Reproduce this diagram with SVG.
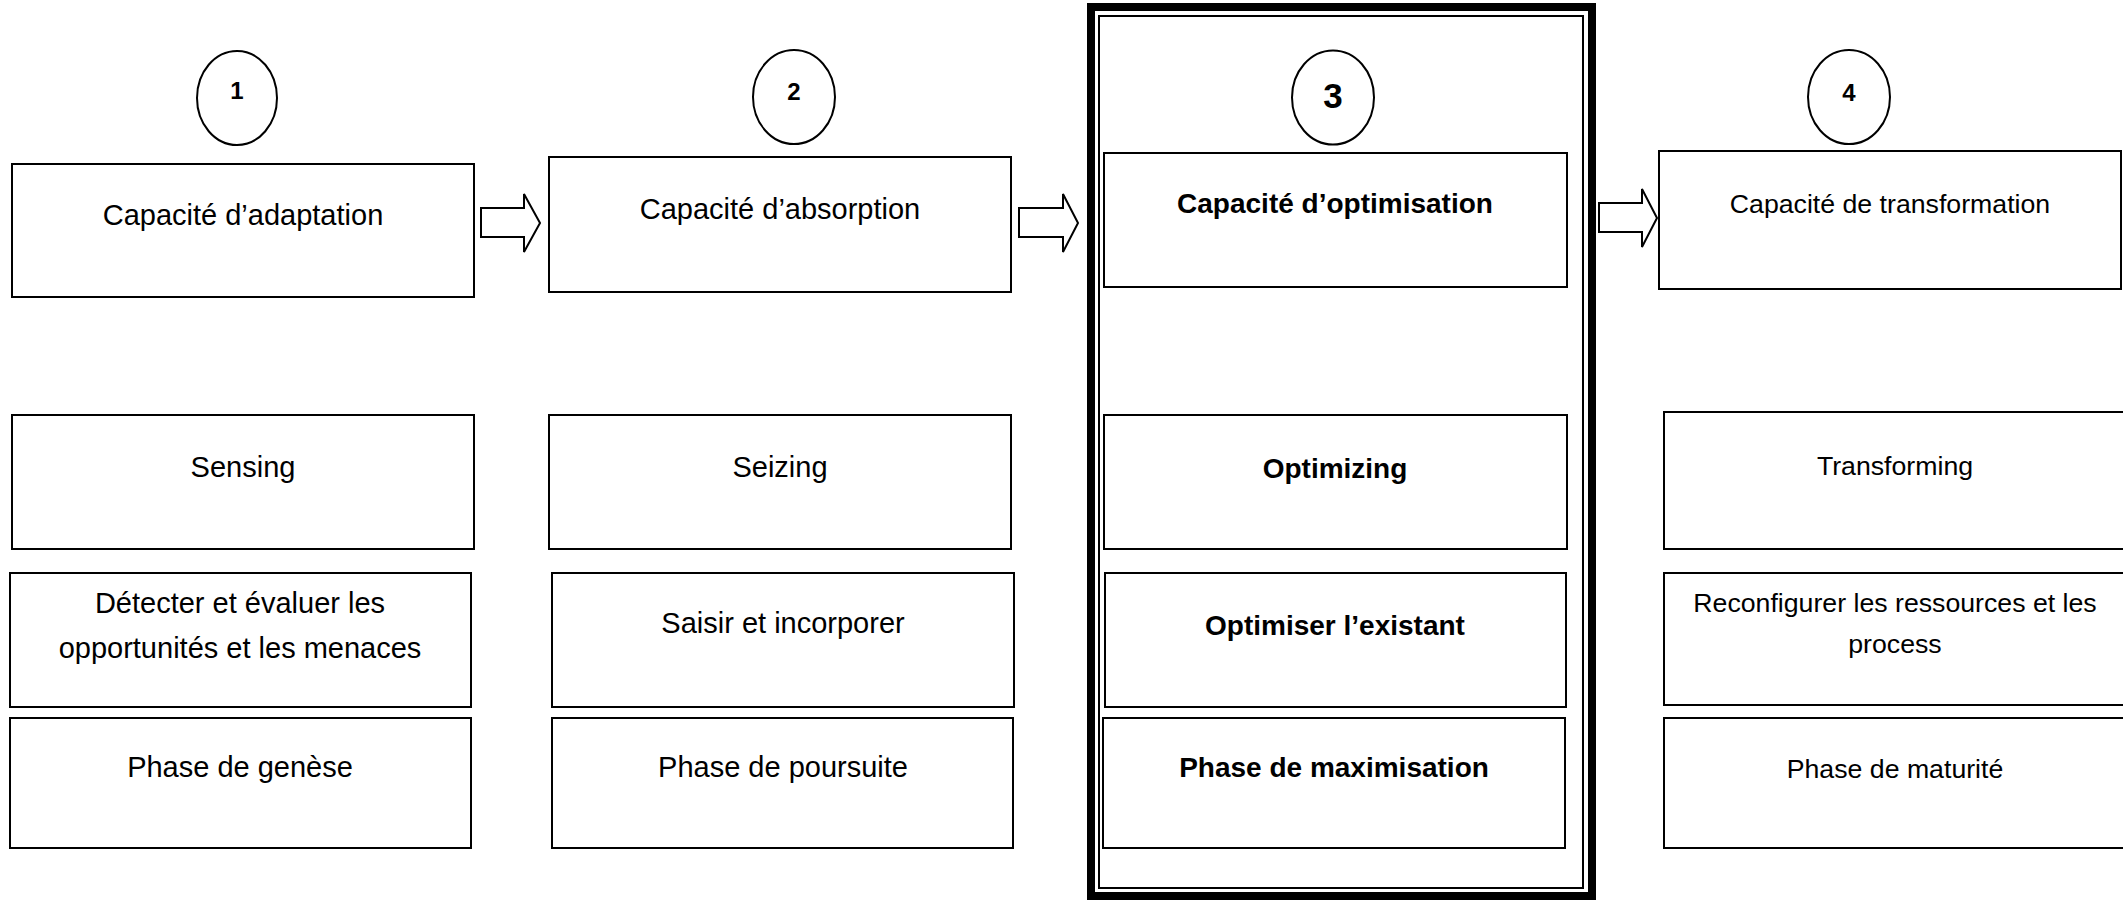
<svg xmlns="http://www.w3.org/2000/svg" width="2123" height="901" viewBox="0 0 2123 901">
<style>
.box{fill:#fff;stroke:#000;stroke-width:2}
.circ{fill:#fff;stroke:#000;stroke-width:2}
.arrow{fill:#fff;stroke:#000;stroke-width:2;stroke-linejoin:miter}
text{font-family:"Liberation Sans",Arial,sans-serif;fill:#000;text-anchor:middle}
.c12{font-size:29px}
.c3{font-size:28px;font-weight:bold}
.c4{font-size:26.7px}
.num{font-size:24px;font-weight:bold}
.num3{font-size:35px;font-weight:bold}
</style>
<rect width="2123" height="901" fill="#fff"/>
<g id="frame3">
<rect x="1091" y="7" width="501" height="889" fill="none" stroke="#000" stroke-width="8"/>
<rect x="1099" y="16" width="484" height="872" fill="none" stroke="#000" stroke-width="2"/>
</g>
<g id="connectors">
<polygon class="arrow" points="481,208 524,208 524,194 540,223 524,252 524,237 481,237"/>
<polygon class="arrow" points="1019,208 1063,208 1063,194 1078,223 1063,252 1063,237 1019,237"/>
<polygon class="arrow" points="1599,203 1642,203 1642,189 1657,218 1642,247 1642,232 1599,232"/>
</g>
<g id="n1">
<ellipse class="circ" cx="237" cy="98" rx="40" ry="47"/>
<text class="num" x="237" y="99">1</text>
</g>
<g id="n2">
<ellipse class="circ" cx="794" cy="97" rx="41" ry="47"/>
<text class="num" x="794" y="100">2</text>
</g>
<g id="n3">
<ellipse class="circ" cx="1333" cy="97.5" rx="41" ry="47"/>
<text class="num3" x="1333" y="108">3</text>
</g>
<g id="n4">
<ellipse class="circ" cx="1849" cy="97" rx="41" ry="47"/>
<text class="num" x="1849" y="101">4</text>
</g>
<g id="adaptation">
<rect class="box" x="12" y="164" width="462" height="133"/>
<text class="c12" x="243" y="225">Capacité d’adaptation</text>
</g>
<g id="absorption">
<rect class="box" x="549" y="157" width="462" height="135"/>
<text class="c12" x="780" y="219">Capacité d’absorption</text>
</g>
<g id="optimisation">
<rect class="box" x="1104" y="153" width="463" height="134"/>
<text class="c3" x="1335" y="213">Capacité d’optimisation</text>
</g>
<g id="transformation">
<rect class="box" x="1659" y="151" width="462" height="138"/>
<text class="c4" x="1890" y="213">Capacité de transformation</text>
</g>
<g id="sensing">
<rect class="box" x="12" y="415" width="462" height="134"/>
<text class="c12" x="243" y="477">Sensing</text>
</g>
<g id="seizing">
<rect class="box" x="549" y="415" width="462" height="134"/>
<text class="c12" x="780" y="477">Seizing</text>
</g>
<g id="optimizing">
<rect class="box" x="1104" y="415" width="463" height="134"/>
<text class="c3" x="1335" y="478">Optimizing</text>
</g>
<g id="transforming">
<rect class="box" x="1664" y="412" width="462" height="137"/>
<text class="c4" x="1895" y="475">Transforming</text>
</g>
<g id="detecter">
<rect class="box" x="10" y="573" width="461" height="134"/>
<text class="c12" x="240" y="613">Détecter et évaluer les</text>
<text class="c12" x="240" y="658">opportunités et les menaces</text>
</g>
<g id="saisir">
<rect class="box" x="552" y="573" width="462" height="134"/>
<text class="c12" x="783" y="633">Saisir et incorporer</text>
</g>
<g id="optimiser">
<rect class="box" x="1105" y="573" width="461" height="134"/>
<text class="c3" x="1335" y="635">Optimiser l’existant</text>
</g>
<g id="reconfigurer">
<rect class="box" x="1664" y="573" width="462" height="132"/>
<text class="c4" x="1895" y="612">Reconfigurer les ressources et les</text>
<text class="c4" x="1895" y="653">process</text>
</g>
<g id="genese">
<rect class="box" x="10" y="718" width="461" height="130"/>
<text class="c12" x="240" y="777">Phase de genèse</text>
</g>
<g id="poursuite">
<rect class="box" x="552" y="718" width="461" height="130"/>
<text class="c12" x="783" y="777">Phase de poursuite</text>
</g>
<g id="maximisation">
<rect class="box" x="1103" y="718" width="462" height="130"/>
<text class="c3" x="1334" y="777">Phase de maximisation</text>
</g>
<g id="maturite">
<rect class="box" x="1664" y="718" width="462" height="130"/>
<text class="c4" x="1895" y="778">Phase de maturité</text>
</g>
</svg>
